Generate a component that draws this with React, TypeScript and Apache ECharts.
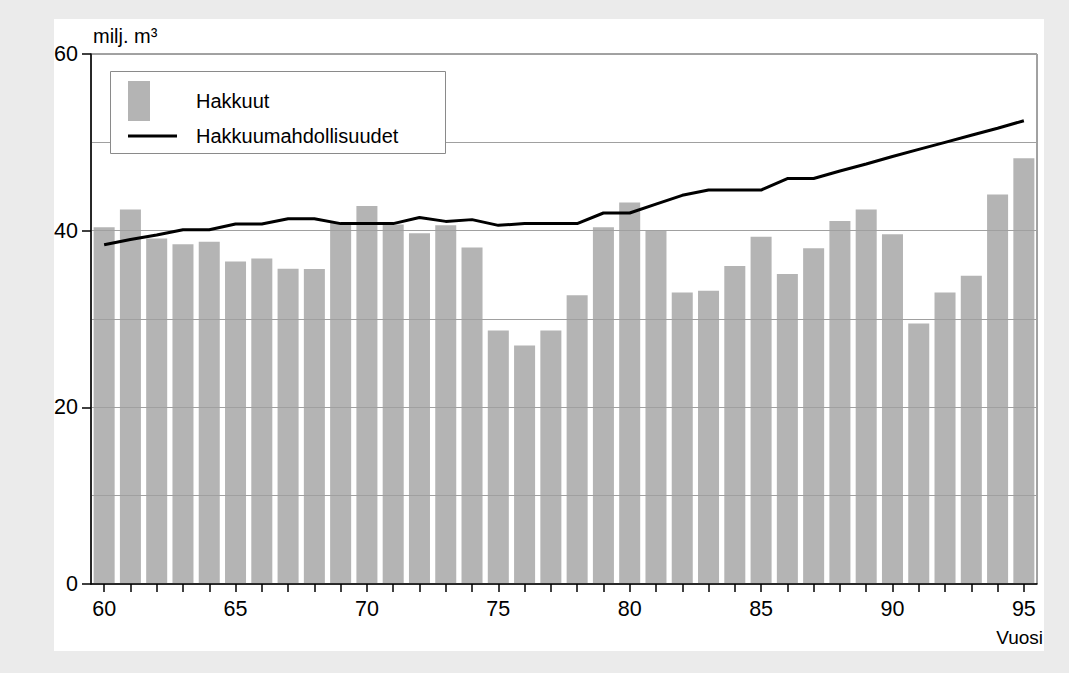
import React, { useEffect, useRef } from "react";
import * as echarts from "echarts";

const years = [
  "60", "61", "62", "63", "64", "65", "66", "67", "68", "69",
  "70", "71", "72", "73", "74", "75", "76", "77", "78", "79",
  "80", "81", "82", "83", "84", "85", "86", "87", "88", "89",
  "90", "91", "92", "93", "94", "95",
];

const hakkuut = [
  40.4, 42.4, 39.1, 38.45, 38.75, 36.5, 36.85, 35.7, 35.65, 40.9,
  42.8, 40.7, 39.7, 40.6, 38.1, 28.7, 27.0, 28.7, 32.7, 40.4,
  43.2, 40.0, 33.0, 33.2, 36.0, 39.3, 35.1, 38.0, 41.1, 42.4,
  39.6, 29.5, 33.0, 34.9, 44.1, 48.2,
];

const hakkuumahdollisuudet = [
  38.4, 39.0, 39.5, 40.1, 40.1, 40.75, 40.75, 41.35, 41.35, 40.8,
  40.8, 40.8, 41.5, 41.05, 41.25, 40.6, 40.8, 40.8, 40.8, 42.0,
  42.0, 43.0, 44.0, 44.6, 44.6, 44.6, 45.9, 45.9, 46.75, 47.55,
  48.4, 49.2, 50.0, 50.8, 51.6, 52.45,
];

const yLabels = [0, 20, 40, 60];

const FONT = "Liberation Sans, Arial, sans-serif";

export default function App() {
  const ref = useRef<HTMLDivElement>(null);

  useEffect(() => {
    if (!ref.current) return;
    const chart = echarts.init(ref.current, undefined, { renderer: "svg" });
    chart.setOption({
      animation: false,
      backgroundColor: "#ebebeb",
      textStyle: { fontFamily: FONT },
      grid: {
        left: 91,
        top: 54,
        right: 32,
        bottom: 89,
        show: true,
        borderColor: "#444",
        borderWidth: 1,
        backgroundColor: "transparent",
      },
      xAxis: {
        type: "category",
        data: years,
        z: 4,
        axisLine: { lineStyle: { color: "#000", width: 1.5 } },
        axisTick: {
          show: true,
          alignWithLabel: true,
          interval: 0,
          length: 8,
          lineStyle: { color: "#000", width: 1.5 },
        },
        axisLabel: {
          interval: 4,
          color: "#000",
          fontSize: 21.5,
          fontFamily: FONT,
          margin: 14,
        },
        name: "Vuosi",
        nameLocation: "end",
        nameGap: 6,
        nameTextStyle: {
          align: "right",
          verticalAlign: "top",
          padding: [44, 0, 0, 0],
          color: "#000",
          fontSize: 19,
          fontFamily: FONT,
        },
      },
      yAxis: {
        type: "value",
        min: 0,
        max: 60,
        interval: 20,
        z: 3,
        axisLine: { show: true, lineStyle: { color: "#000", width: 1.5 } },
        axisTick: { show: true, length: 9, lineStyle: { color: "#000", width: 1.5 } },
        axisLabel: {
          color: "#000",
          fontSize: 21.5,
          fontFamily: FONT,
          margin: 13,
          formatter: (v: number) => (yLabels.includes(v) ? String(v) : ""),
        },
        splitLine: { show: true, lineStyle: { color: "#a0a0a0", width: 1 } },
        minorTick: { show: false, splitNumber: 2 },
        minorSplitLine: { show: true, lineStyle: { color: "#a0a0a0", width: 1 } },
        name: "milj. m³",
        nameLocation: "end",
        nameGap: 8,
        nameTextStyle: {
          align: "left",
          padding: [0, 0, 0, 2],
          color: "#000",
          fontSize: 20,
          fontFamily: FONT,
        },
      },
      series: [
        {
          name: "Hakkuut",
          type: "bar",
          data: hakkuut,
          barWidth: "80%",
          itemStyle: { color: "#b4b4b4" },
          z: 2,
        },
        {
          name: "Hakkuumahdollisuudet",
          type: "line",
          data: hakkuumahdollisuudet,
          showSymbol: false,
          symbol: "none",
          lineStyle: { color: "#000", width: 3 },
          z: 6,
        },
      ],
      graphic: [
        {
          type: "rect",
          z: -10,
          shape: { x: 54, y: 19, width: 990, height: 632 },
          style: { fill: "#fff" },
          silent: true,
        },
        {
          type: "group",
          z: 100,
          children: [
            {
              type: "rect",
              z: 100,
              shape: { x: 110.5, y: 71.5, width: 335, height: 82 },
              style: { fill: "#fff", stroke: "#8a8a8a", lineWidth: 1 },
            },
            {
              type: "rect",
              z: 101,
              shape: { x: 128, y: 81, width: 22, height: 40 },
              style: { fill: "#b4b4b4" },
            },
            {
              type: "line",
              z: 101,
              shape: { x1: 128, y1: 136, x2: 177, y2: 136 },
              style: { stroke: "#000", lineWidth: 3 },
            },
            {
              type: "text",
              z: 101,
              x: 196,
              y: 101,
              style: {
                text: "Hakkuut",
                fill: "#000",
                font: `20px ${FONT}`,
                verticalAlign: "middle",
                align: "left",
              },
            },
            {
              type: "text",
              z: 101,
              x: 196,
              y: 136,
              style: {
                text: "Hakkuumahdollisuudet",
                fill: "#000",
                font: `20px ${FONT}`,
                verticalAlign: "middle",
                align: "left",
              },
            },
          ],
        },
      ],
    });
    return () => chart.dispose();
  }, []);

  return (
    <div
      ref={ref}
      style={{ position: "fixed", left: 0, top: 0, width: 1069, height: 673 }}
    />
  );
}
